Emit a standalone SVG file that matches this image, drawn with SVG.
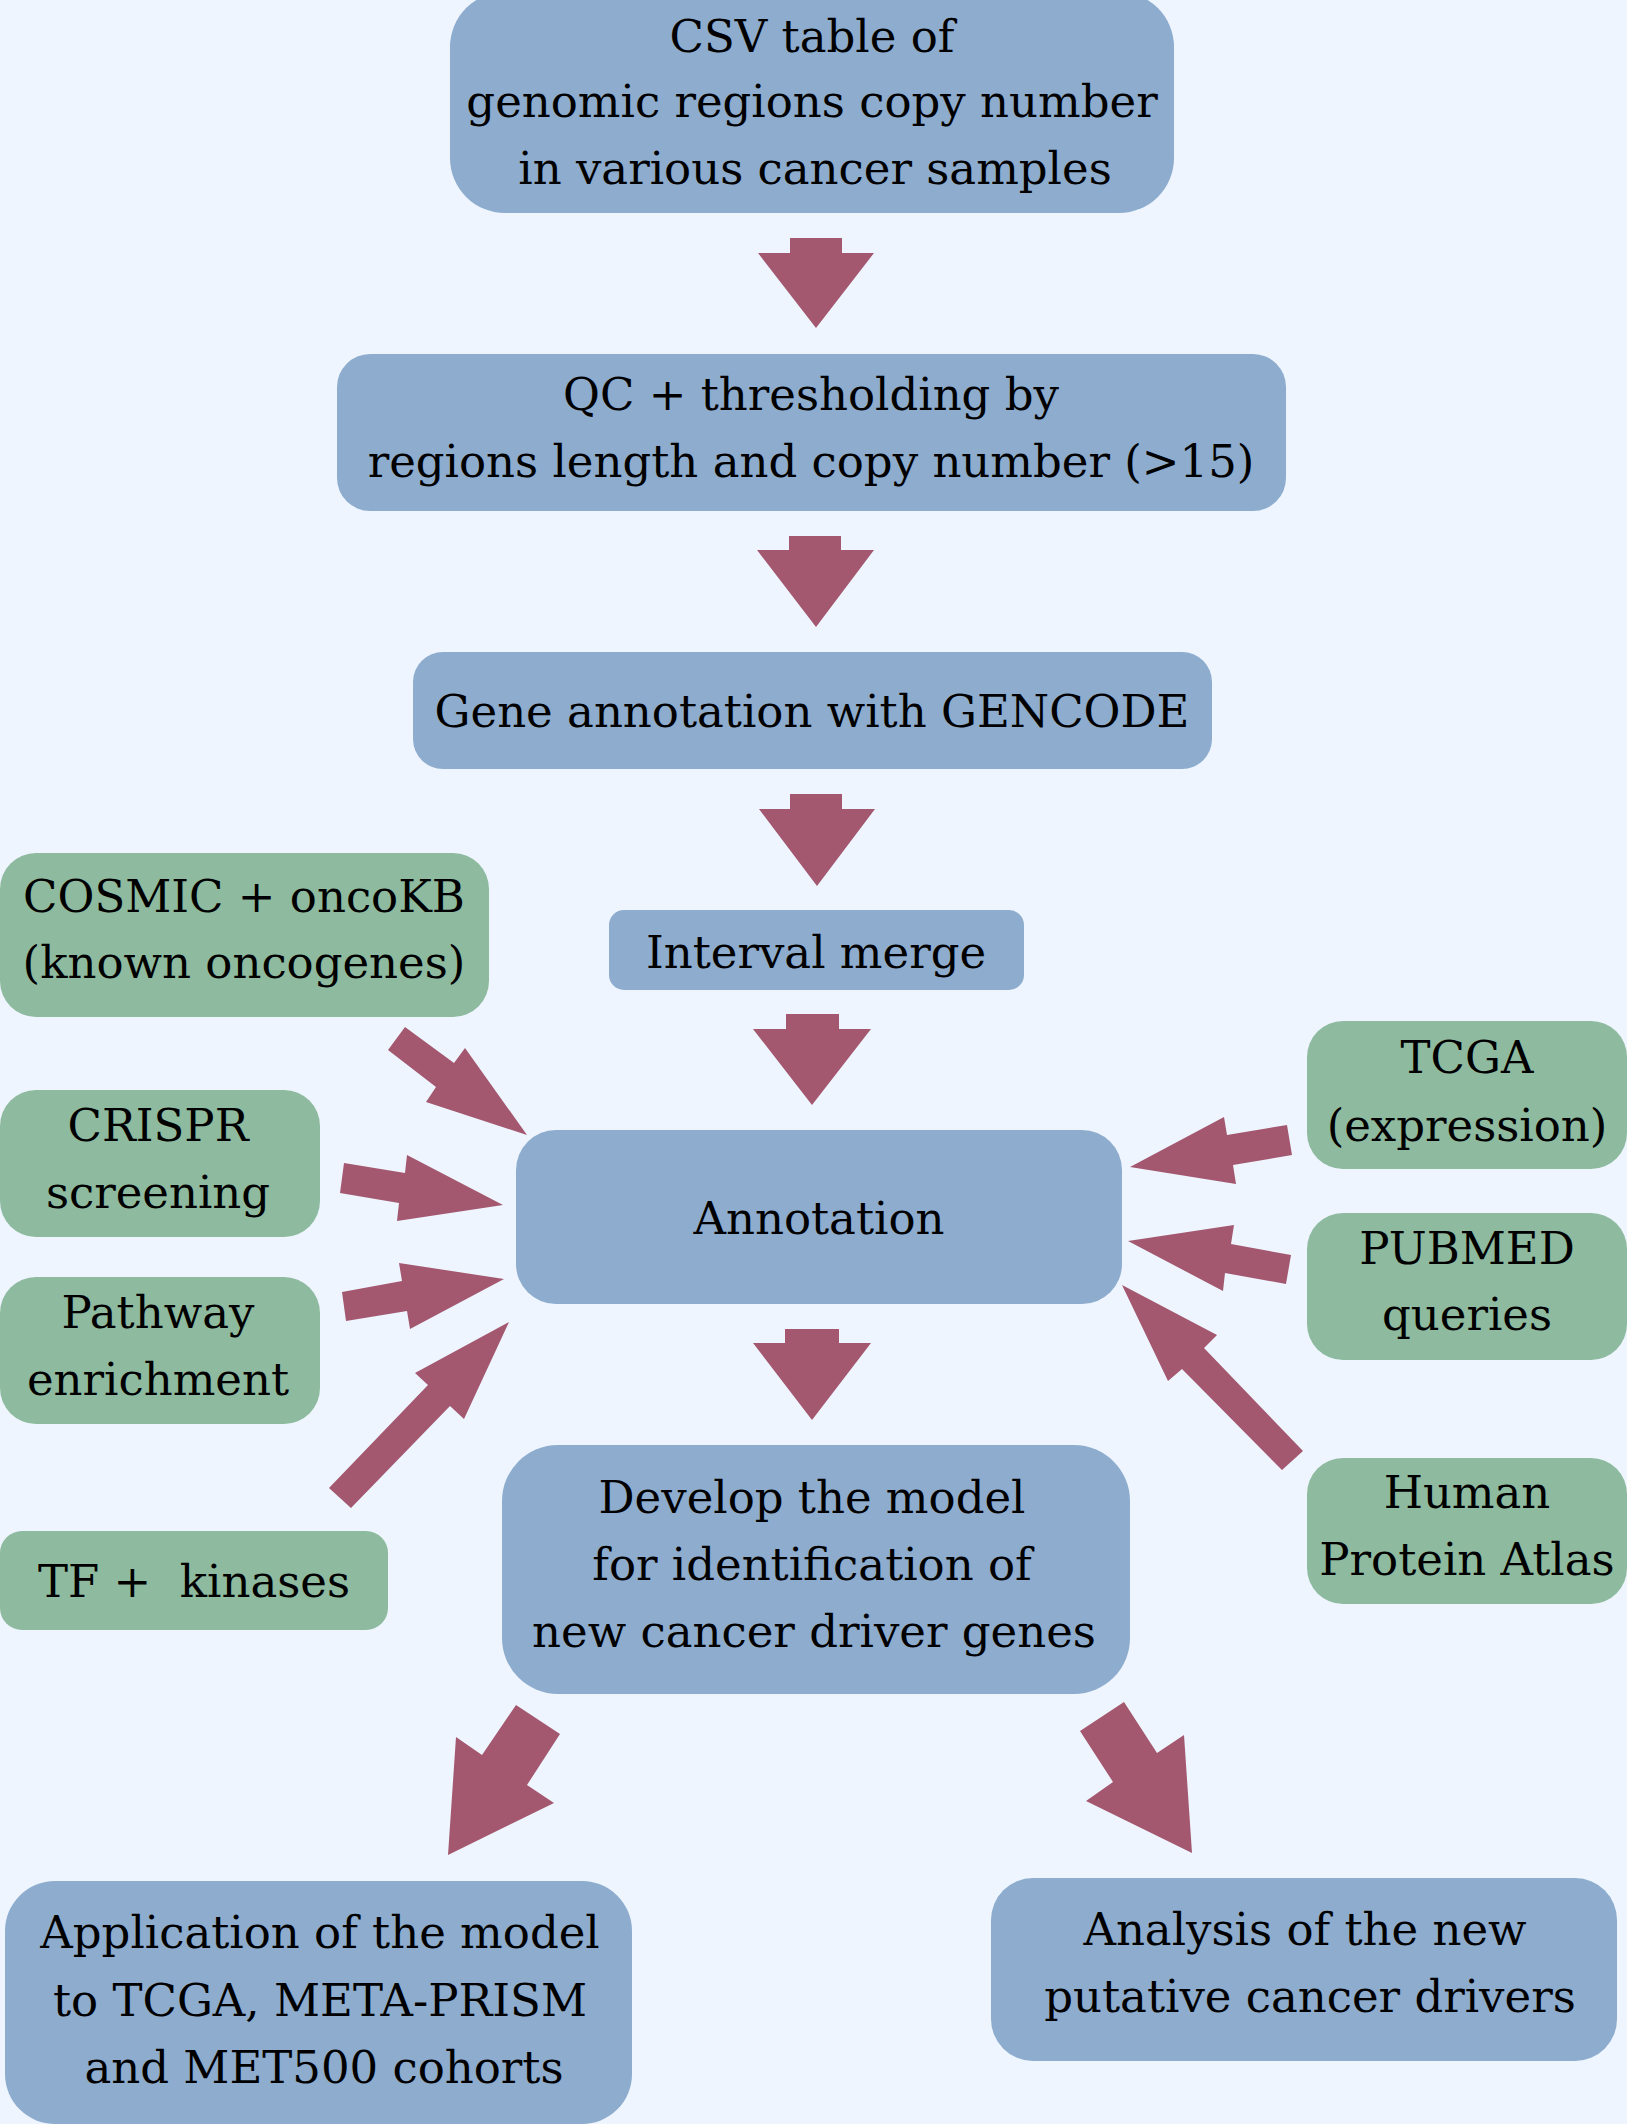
<svg xmlns="http://www.w3.org/2000/svg" width="1627" height="2124" viewBox="0 0 1627 2124">
<style>
.bg{fill:#EEF5FE}
.blue{fill:#8DACCE}
.green{fill:#8EBA9F}
.arr{fill:#A3586F}
text{font-family:"DejaVu Serif","Liberation Serif",serif;font-size:45px;fill:#000;text-anchor:middle}
</style>
<rect class="bg" x="0" y="0" width="1627" height="2124"/>
<g id="connectors">
<polygon class="arr" points="790,238 842,238 842,253 874,253 816,328 758,253 790,253"/>
<polygon class="arr" points="789,536 841,536 841,550 874,550 816,627 757,550 789,550"/>
<polygon class="arr" points="790,794 842,794 842,809 875,809 817,886 759,809 790,809"/>
<polygon class="arr" points="786,1014 839,1014 839,1029 871,1029 812,1105 753,1029 786,1029"/>
<polygon class="arr" points="785,1329 839,1329 839,1343 871,1343 812,1420 753,1343 785,1343"/>
<polygon class="arr" points="405,1027 454,1063 465,1048 527,1135 426,1102 436,1087 388,1050"/>
<polygon class="arr" points="344,1163 405,1173 407,1155 503,1205 397,1221 399,1203 340,1193"/>
<polygon class="arr" points="342,1292 402,1281 399,1263 504,1279 410,1329 407,1311 346,1321"/>
<polygon class="arr" points="329,1488 428,1385 415,1373 509,1322 464,1419 450,1406 351,1508"/>
<polygon class="arr" points="1287,1125 1227,1135 1224,1117 1130,1167 1236,1184 1233,1165 1292,1155"/>
<polygon class="arr" points="1291,1255 1231,1244 1234,1225 1128,1241 1223,1291 1225,1273 1286,1284"/>
<polygon class="arr" points="1303,1451 1204,1348 1217,1335 1122,1285 1168,1381 1182,1369 1282,1470"/>
<polygon class="arr" points="516,1705 560,1734 527,1785 554,1803 448,1855 456,1737 482,1755"/>
<polygon class="arr" points="1124,1702 1157,1753 1184,1735 1192,1853 1086,1801 1113,1782 1080,1731"/>
</g>
<g id="n-csv">
<rect class="blue" x="450" y="-8" width="724" height="221" rx="55"/>
<text x="812" y="52">CSV table of</text>
<text x="812" y="117">genomic regions copy number</text>
<text x="815" y="184">in various cancer samples</text>
</g>
<g id="n-qc">
<rect class="blue" x="337" y="354" width="949" height="157" rx="33"/>
<text x="811" y="410">QC + thresholding by</text>
<text x="811" y="477">regions length and copy number (&gt;15)</text>
</g>
<g id="n-gene">
<rect class="blue" x="413" y="652" width="799" height="117" rx="30"/>
<text x="812" y="727">Gene annotation with GENCODE</text>
</g>
<g id="n-interval">
<rect class="blue" x="609" y="910" width="415" height="80" rx="15"/>
<text x="816" y="968">Interval merge</text>
</g>
<g id="n-annotation">
<rect class="blue" x="516" y="1130" width="606" height="174" rx="40"/>
<text x="819" y="1234">Annotation</text>
</g>
<g id="n-develop">
<rect class="blue" x="502" y="1445" width="628" height="249" rx="56"/>
<text x="812" y="1513">Develop the model</text>
<text x="812" y="1580">for identification of</text>
<text x="814" y="1647">new cancer driver genes</text>
</g>
<g id="n-cosmic">
<rect class="green" x="0" y="853" width="489" height="164" rx="36"/>
<text x="244" y="912">COSMIC + oncoKB</text>
<text x="244" y="978">(known oncogenes)</text>
</g>
<g id="n-crispr">
<rect class="green" x="0" y="1090" width="320" height="147" rx="36"/>
<text x="158" y="1141">CRISPR</text>
<text x="158" y="1208">screening</text>
</g>
<g id="n-pathway">
<rect class="green" x="0" y="1277" width="320" height="147" rx="36"/>
<text x="158" y="1328">Pathway</text>
<text x="158" y="1395">enrichment</text>
</g>
<g id="n-tf">
<rect class="green" x="0" y="1531" width="388" height="99" rx="22"/>
<text x="194" y="1597">TF +&#160; kinases</text>
</g>
<g id="n-tcga">
<rect class="green" x="1307" y="1021" width="320" height="148" rx="36"/>
<text x="1467" y="1073">TCGA</text>
<text x="1467" y="1141">(expression)</text>
</g>
<g id="n-pubmed">
<rect class="green" x="1307" y="1213" width="320" height="147" rx="36"/>
<text x="1467" y="1264">PUBMED</text>
<text x="1467" y="1330">queries</text>
</g>
<g id="n-hpa">
<rect class="green" x="1307" y="1458" width="320" height="146" rx="36"/>
<text x="1467" y="1508">Human</text>
<text x="1467" y="1575">Protein Atlas</text>
</g>
<g id="n-application">
<rect class="blue" x="5" y="1881" width="627" height="243" rx="50"/>
<text x="320" y="1948">Application of the model</text>
<text x="320" y="2016">to TCGA, META-PRISM</text>
<text x="324" y="2083">and MET500 cohorts</text>
</g>
<g id="n-analysis">
<rect class="blue" x="991" y="1878" width="626" height="183" rx="42"/>
<text x="1305" y="1945">Analysis of the new</text>
<text x="1310" y="2012">putative cancer drivers</text>
</g>
</svg>
